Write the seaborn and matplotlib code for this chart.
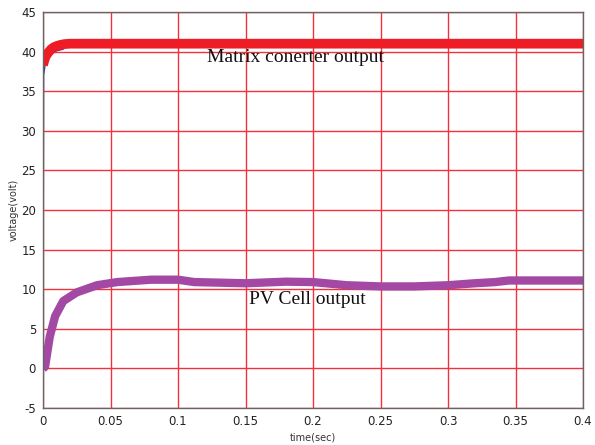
import numpy as np
import pandas as pd
import matplotlib
matplotlib.use("Agg")
import matplotlib.pyplot as plt
import seaborn as sns
from matplotlib import font_manager

# ---- data ----
t_matrix = [0.0, 0.001, 0.002, 0.004, 0.006, 0.008, 0.010, 0.013, 0.016, 0.020, 0.10, 0.20, 0.30, 0.40]
v_matrix = [38.3, 38.9, 39.4, 39.9, 40.3, 40.55, 40.7, 40.85, 40.95, 41.0, 41.0, 41.0, 41.0, 41.0]

t_blue = [0.0, 0.0004, 0.002, 0.005, 0.010, 0.015]
v_blue = [0.0, 37.0, 38.8, 39.6, 40.1, 40.3]

t_pv = [0.0, 0.0015, 0.005, 0.009, 0.015, 0.025, 0.040, 0.055, 0.080, 0.100,
        0.112, 0.150, 0.180, 0.200, 0.225, 0.250, 0.275, 0.300, 0.320, 0.335, 0.345, 0.400]
v_pv = [0.0, 0.2, 4.0, 6.6, 8.5, 9.6, 10.5, 10.9, 11.2, 11.2,
        10.9, 10.75, 10.95, 10.9, 10.5, 10.35, 10.35, 10.5, 10.75, 10.9, 11.1, 11.1]

x_ticks = [0, 0.05, 0.1, 0.15, 0.2, 0.25, 0.3, 0.35, 0.4]
x_tick_labels = ["0", "0.05", "0.1", "0.15", "0.2", "0.25", "0.3", "0.35", "0.4"]
y_ticks = [-5, 0, 5, 10, 15, 20, 25, 30, 35, 40, 45]
y_tick_labels = [str(v) for v in y_ticks]

label_matrix = "Matrix conerter output"
label_pv = "PV Cell output"
x_label = "time(sec)"
y_label = "voltage(volt)"

sns.set_theme(style="white")
available = {f.name for f in font_manager.fontManager.ttflist}
tick_font = "Liberation Sans Narrow" if "Liberation Sans Narrow" in available else "DejaVu Sans"
plt.rcParams["font.family"] = [tick_font, "DejaVu Sans"]

fig = plt.figure(figsize=(5.95, 4.45), dpi=100)
ax = fig.add_axes([43 / 595, 1 - 408 / 445, 540 / 595, 396 / 445])

df_m = pd.DataFrame({"t": t_matrix, "v": v_matrix})
df_b = pd.DataFrame({"t": t_blue, "v": v_blue})
df_p = pd.DataFrame({"t": t_pv, "v": v_pv})

ax.set_xlim(0, 0.4)
ax.set_ylim(-5, 45)
ax.set_xticks(x_ticks)
ax.set_xticklabels(x_tick_labels)
ax.set_yticks(y_ticks)
ax.set_yticklabels(y_tick_labels)
ax.grid(True, color="#f2323a", linewidth=1.0)
ax.set_axisbelow(True)

sns.lineplot(data=df_b, x="t", y="v", ax=ax, color="#3a3aa0", linewidth=1.0)
sns.lineplot(data=df_m, x="t", y="v", ax=ax, color="#ee1c25", linewidth=7.0,
             solid_capstyle="butt")
sns.lineplot(data=df_p, x="t", y="v", ax=ax, color="#a349a4", linewidth=6.0,
             solid_capstyle="butt")

for s in ax.spines.values():
    s.set_color("#666666")
    s.set_linewidth(1.0)
ax.tick_params(axis="both", direction="in", length=3, labelsize=8.5,
               colors="#333333", pad=5)
ax.tick_params(axis="both", labelcolor="#222222")

ax.set_xlabel(x_label, fontsize=7, color="#333333", labelpad=3)
ax.set_ylabel(y_label, fontsize=7, color="#333333", labelpad=2)

serif = ["Liberation Serif", "DejaVu Serif"]
ax.text(0.1867, 39.3, label_matrix, family=serif, fontsize=14, color="#111111",
        ha="center", va="center")
ax.text(0.196, 8.7, label_pv, family=serif, fontsize=14, color="#111111",
        ha="center", va="center")

fig.savefig("out.png", dpi=100)
